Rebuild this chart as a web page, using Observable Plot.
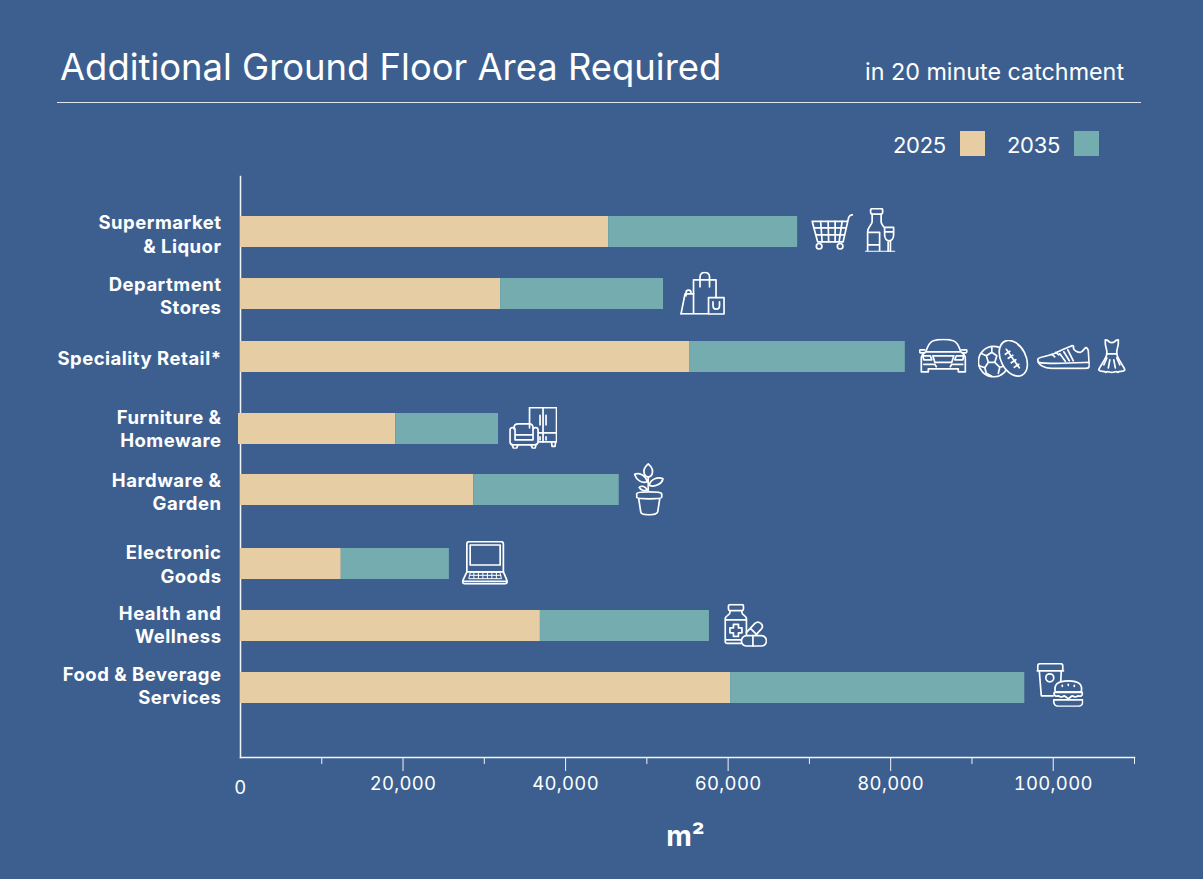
<!DOCTYPE html>
<html>
<head>
<meta charset="utf-8">
<script src="https://cdn.jsdelivr.net/npm/d3@7"></script>
<script src="https://cdn.jsdelivr.net/npm/@observablehq/plot@0.6"></script>
<style>
  html, body { margin: 0; padding: 0; background: #3d5f90; }
  body { width: 1203px; height: 879px; overflow: hidden; font-family: Inter, sans-serif; color: #fff; }
  #head { position: relative; width: 1203px; height: 170px; }
  #head > * { position: absolute; white-space: nowrap; }
  #title { left: 60px; top: 44px; font-size: 36.4px; line-height: 46px; }
  #sub { left: 865px; top: 57px; font-size: 23.3px; line-height: 30px; }
  #rule { left: 57px; top: 102px; width: 1084px; height: 1px; background: #dfe6ef; }
  .ly { top: 130px; font-size: 22px; line-height: 30px; letter-spacing: -.3px; }
  .sw { top: 131px; width: 25px; height: 25px; }
  svg { display: block; }
  g[aria-label="y-axis tick label"] text { letter-spacing: .5px; }
  g[aria-label="x-axis tick label"] text { letter-spacing: .3px; }
</style>
</head>
<body>
<div id="head">
  <div id="title">Additional Ground Floor Area Required</div>
  <div id="sub">in 20 minute catchment</div>
  <div id="rule"></div>
  <div class="ly" style="left:893px">2025</div><div class="sw" style="left:960px;background:#e7cda3"></div>
  <div class="ly" style="left:1007px">2035</div><div class="sw" style="left:1074px;background:#74acaf"></div>
</div>
<div id="chart"></div>
<script>
const categories = ["Supermarket\n& Liquor","Department\nStores","Speciality Retail*","Furniture &\nHomeware","Hardware &\nGarden","Electronic\nGoods","Health and\nWellness","Food & Beverage\nServices"];
const area2025 = [45300, 32000, 55250, 19100, 28700, 12400, 36900, 60300];
const area2035 = [23250, 20050, 26550, 12650, 17900, 13300, 20800, 36200];
const years = ["2025", "2035"];
const yearColors = ["#e7cda3", "#74acaf"];
const majorTicks = [20000, 40000, 60000, 80000, 100000];
const minorTicks = [10000, 30000, 50000, 70000, 90000, 110000];

// The rows of the original are not evenly spaced: small offsets from the band scale.
const barNudge = [0, -3, -5, 2, -2, 7, 4, 1];
const labelNudge = [1.5, -2, -4.5, 1, -1, 6.5, 2, -2];
// In the original the Furniture bar slightly overhangs the axis.
const leftOverhang = [0, 0, 0, 2, 0, 0, 0, 0];

const BG = "#3d5f90";
const svgIcon = (w, h, body) => "data:image/svg+xml," + encodeURIComponent(
  `<svg xmlns="http://www.w3.org/2000/svg" viewBox="0 0 ${w} ${h}" width="${w*4}" height="${h*4}" fill="none" stroke="#fff" stroke-width="1.7" stroke-linecap="round" stroke-linejoin="round">${body}</svg>`);

const icons = {
  cart: svgIcon(42, 36, `<path d="M41.5 .8c-2 .3-3.4 1.2-4 3L32 28H6.5L1 7.5h35.4"/><path d="M3 14h31.5M5 21h28M9.5 7.5 11 28M17 7.5 17.5 28M24 7.5V28M31 7.5 28 28"/><circle cx="8" cy="32.5" r="2.8"/><circle cx="29" cy="32.5" r="2.8"/>`),
  bottle: svgIcon(30, 44, `<rect x="5.5" y=".8" width="12" height="5.5" rx="1.5"/><path d="M7 6.5V14c0 3-4.5 5-4.5 10v19.5M16 6.5V14c0 2 1.5 3 2.500 5M2.500 24.500H14.500V37H2.500M14.500 37V43.500M0 43.700H30"/><path d="M19.500 19.500H28.500V27c0 3.500-2 6-4.500 6s-4.500-2.500-4.500-6ZM19.500 24H28.500M23 33V43.500M25.300 33V43.500"/>`),
  bags: svgIcon(45, 43, `<path d="M13.500 42V8H36V25.500M1 42h27M20 15V5c0-6 9.500-6 9.500 0V15"/><path d="M1 42 5 22H13.500M6 24v-3c0-3.500 5-3.500 5 0"/><rect x="28.500" y="25.800" width="15.500" height="16.500"/><path d="M33 30v4c0 4.500 6.500 4.500 6.500 0V30"/>`),
  car: svgIcon(49, 35, `<path d="M7 13C9 7 11 3 14.500 2 20 .5 29 .5 34.500 2 38 3 40 7 42 13M7 13C4 15 2.500 17 2.500 20V33H9.500V30H39.500V33H46.500V20C46.500 17 45 15 42 13ZM7 13H42"/><path d="M6 11H1.500C.5 11 .5 14 2 14H5M43 11H47.500C48.500 11 48.500 14 47 14H44"/><path d="M4 17H11.500L13 21H5ZM45 17H37.500L36 21H44ZM14 17H35L33 23.500H16ZM5 25.500H16L17.500 28M44 25.500H33L31.500 28"/>`),
  balls: svgIcon(51, 38, `<circle cx="15.800" cy="21.800" r="15.200"/><path d="M8.500 16 14 12.500 19 16 17 22.500H10.500ZM14 12.500V7.500M8.500 16 3 13.500M10.500 22.500 7 28 8.500 33.500M17 22.500 22 27.500 20.500 33.500M7 28 1.500 26M8.500 33.500 14 36.500M22 27.500 28 26"/><ellipse cx="35.500" cy="18.500" rx="12.500" ry="19" transform="rotate(-27 35.500 18.500)" fill="${BG}"/><path d="M28.500 9.500 41.500 28M27.500 14.500 32 11.500M30.500 18.500 35 15.500M33.500 23 38 20M36.500 27.500 41 24.500"/>`),
  shoe: svgIcon(53, 26, `<path d="M1 15.500C1 13 10 13 17 10 25 6 30 4 34 2.500 35.500 1 37.500 2 36.500 4 37 7 41 8.500 43.500 8.500 45.500 8.500 47 5.500 48.500 4 50 3.500 51 5 51.500 7L52.500 22C52.500 24 51 24.500 49 24.500H15C7 24.500 1 21 1 15.500Z"/><path d="M1.500 18.500C12 20.500 30 19.500 52 18.500M23 10 28.500 17.500M27 8 32.500 17M31 6 36.500 17M15 10.500 18 13M19 8.500 22 11"/>`),
  dress: svgIcon(28, 35, `<path d="M7.500 1V5C7.500 8 9.500 10 9 15 9 19 3 26 .8 31 3 34 6 31.500 8 33.500 10 31.500 12 34 14 33.500 16 34 18 31.500 20 33.500 22 31.500 25 34 27.200 31 25 26 19 19 19 15 18.500 10 20.500 8 20.500 5V1M7.500 1 10 1.500C11 4.500 17 4.500 18 1.500L20.500 1"/><path d="M9 15H19M9 19 6 26M12 21 10.500 29M16 21 17.500 29M19 19 22 26"/>`),
  sofa: svgIcon(48, 42, `<path d="M20.500 21V.8H47.500V35H29.500"/><path d="M34 .8V35M29.500 26H47.500M31 8.500V18M37 8.500V18M31 30V33M37 30V33M42.500 35 43 39.500H46L46.500 35"/><path d="M5 22V21C5 18 7 17 9 17H20C22.500 17 24 18.500 24 21V22"/><path d="M6 28V23C6 20 1 20 1 23V35C1 37 2 38 4 38H25C27 38 29 37 29 35V23C29 20 24 20 24 23V28H6ZM6 28V33H24V28"/><path d="M3 38 4.500 41.500H7.500L9 38M22 38 23.500 41.500H26L27 38"/>`),
  plant: svgIcon(30, 53, `<path d="M14.500 1C10.500 4.500 9.500 8 10.500 11 11 13 13 14 14.500 14.500 16 14 18 13 18.500 11 19.500 8 18.500 4.500 14.500 1Z"/><path d="M14.500 14.500V28M13.500 19C12 12 5 9.500 .8 11.500 2.500 17 8 21 13.500 19ZM15.500 22.500C17 16 24 13.500 29.500 16 28 21 21 25 15.500 22.500ZM13.500 27C11.500 23.500 8 22.500 5.500 24.500 7 27.500 10.500 28.500 13.500 27Z"/><path d="M3 31C3 28.500 27 28.500 28 31V34.500C28 36.500 3 36.500 3 34.500ZM5 36 7 49C7.500 53 23 53 24 49L26 36"/>`),
  laptop: svgIcon(46, 44, `<path d="M5 31V3C5 1.500 6 .8 7.500 .8H39C40.500 .8 41.500 1.500 41.500 3V31"/><rect x="8.300" y="4.200" width="30" height="20"/><path d="M5 31 .8 40C.2 41.500 1 43 3 43H43C45 43 46 41.500 45.300 40L41.500 31ZM1 40.500H45"/><path d="M7 37.500 8.500 31.500H38L39.500 37.500ZM7.500 34.500H39M12 31.500V37.500M16.500 31.500V37.500M21 31.500V37.500M25.500 31.500V37.500M30 31.500V37.500M34.500 31.500V37.500" stroke-width="1"/>`),
  meds: svgIcon(43, 43, `<rect x="4.500" y=".8" width="15" height="6" rx="1.500"/><path d="M6 7V9C6 11 1.300 12 1.300 15V38C1.300 39 2 39.500 3 39.500H18M18 7V9C18 11 22.500 12 22.500 15V31M1.300 16H22.500M1.300 36H17"/><path d="M9.500 20.500H14.500V24H18V29H14.500V32.500H9.500V29H6V24H9.500Z"/><path d="M22.500 28.500 31 19.500C35 16 40.500 21.500 37.500 25L31.500 31.500M26.500 24.500 33.500 31.500"/><rect x="17.500" y="31.800" width="25" height="10.500" rx="5.200" fill="${BG}"/><path d="M29 31.800V42.300"/>`),
  food: svgIcon(47, 44, `<path d="M1.500 8H26.500V3C26.500 1.500 25.500 .8 24 .8H4C2.500 .8 1.500 1.500 1.500 3ZM.8 8H27.200"/><path d="M3 8 5 33H17M25 8 24.500 18"/><circle cx="13.500" cy="15" r="4"/><path d="M19 29C17.500 22 21 18 32 18S46.500 22 45 29Z" fill="${BG}"/><path d="M26 22.500V23.500M32 21.500V22.500M38 22.500V23.500"/><path d="M18 29.500H46C47 33 44 34 42 33 40 34.500 38 34.500 36 33L32 36 28 33C26 34.500 24 34.500 22 33 20 34 17 33 18 29.500Z" fill="${BG}"/><path d="M17.500 37H46.500V39C46.500 42 44 43.500 42 43.500H22C20 43.500 17.500 42 17.500 39Z" fill="${BG}"/>`)
};

// Icon placement is relative to the end of the bar in each row.
const iconPlacements = [
  {row: 0, icon: "cart",   dx: 34.5,  dy: -0.2, w: 42, h: 36},
  {row: 0, icon: "bottle", dx: 82.5,  dy: -2.2, w: 30, h: 44},
  {row: 1, icon: "bags",   dx: 39,    dy: -0.7, w: 45, h: 43},
  {row: 2, icon: "car",    dx: 38,    dy: -0.7, w: 49, h: 35},
  {row: 2, icon: "balls",  dx: 98,    dy: 1.8,  w: 51, h: 38},
  {row: 2, icon: "shoe",   dx: 158,   dy: -0.2, w: 53, h: 26},
  {row: 2, icon: "dress",  dx: 206.5, dy: -0.7, w: 28, h: 35},
  {row: 3, icon: "sofa",   dx: 34.5,  dy: -1.2, w: 48, h: 42},
  {row: 4, icon: "plant",  dx: 29.5,  dy: -0.7, w: 30, h: 53},
  {row: 5, icon: "laptop", dx: 35.5,  dy: -1.2, w: 46, h: 44},
  {row: 6, icon: "meds",   dx: 36,    dy: -0.7, w: 43, h: 43},
  {row: 7, icon: "food",   dx: 35,    dy: -3.2, w: 47, h: 44}
];

const rows = categories.map((category, i) => ({
  category,
  nudge: barNudge[i],
  overhang: leftOverhang[i],
  first: {category, year: years[0], from: 0, to: area2025[i]},
  second: {category, year: years[1], from: area2025[i], to: area2025[i] + area2035[i]},
  total: area2025[i] + area2035[i]
}));

const chart = Plot.plot({
  width: 1203, height: 709,
  marginLeft: 240, marginRight: 69, marginTop: 6, marginBottom: 122,
  style: {background: "transparent", color: "#fff", fontFamily: "Inter, sans-serif", overflow: "visible"},
  x: {domain: [0, 110000], axis: null, label: null},
  y: {type: "band", domain: categories, axis: null, label: null, paddingInner: 0.524, paddingOuter: 0.7215, align: 0.4255},
  color: {domain: years, range: yearColors},
  marks: [
    Plot.frame({anchor: "left", stroke: "#f2f4f8", strokeWidth: 1.5}),
    Plot.frame({anchor: "bottom", stroke: "#f2f4f8", strokeWidth: 1.5}),
    ...rows.flatMap(r => [
      Plot.barX([r.first], {x1: "from", x2: "to", y: "category", fill: "year", dy: r.nudge, insetLeft: -r.overhang}),
      Plot.barX([r.second], {x1: "from", x2: "to", y: "category", fill: "year", dy: r.nudge})
    ]),
    ...iconPlacements.map(p => Plot.image([rows[p.row]], {
      x: "total", y: "category", src: () => icons[p.icon],
      width: p.w, height: p.h, dx: p.dx, dy: rows[p.row].nudge + p.dy
    })),
    Plot.axisX(minorTicks, {tickSize: 7, tickFormat: () => "", stroke: "#f2f4f8", strokeWidth: 1}),
    Plot.axisX(majorTicks, {tickSize: 14, tickPadding: 5.5, tickFormat: d3.format(","), fontSize: 18.5, stroke: "#f2f4f8", strokeWidth: 1}),
    Plot.axisX([0], {tickSize: 0, tickPadding: 23, tickFormat: d => String(d), fontSize: 18.5}),
    ...categories.map((c, i) => Plot.axisY([c], {
      tickSize: 0, tickPadding: 19, dy: labelNudge[i], fontSize: 18.5, fontWeight: 700, lineHeight: 1.26, tickFormat: d => d
    })),
    Plot.text(["m²"], {frameAnchor: "bottom", text: d => d, dy: 88, dx: -2, fontSize: 28, fontWeight: 700})
  ]
});
document.getElementById("chart").append(chart);
</script>
</body>
</html>
